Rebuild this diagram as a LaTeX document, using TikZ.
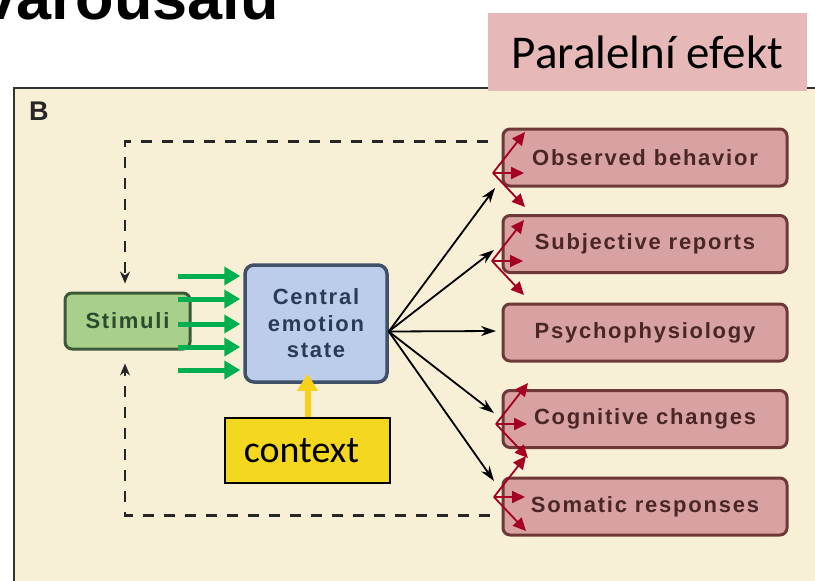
\documentclass[tikz,border=0pt]{standalone}
\usepackage{fontspec}
\setmainfont{Liberation Sans}
\newfontfamily\calibri{Carlito}
\usetikzlibrary{arrows.meta,calc}

\definecolor{panelcream}{HTML}{F8F0D6}
\definecolor{stimfill}{HTML}{A9D08A}
\definecolor{stimdraw}{HTML}{3C5A3A}
\definecolor{stimtext}{HTML}{2E4A2E}
\definecolor{centfill}{HTML}{BCCDEB}
\definecolor{centdraw}{HTML}{3F5068}
\definecolor{centtext}{HTML}{2B3A55}
\definecolor{outfill}{HTML}{D8A2A2}
\definecolor{outdraw}{HTML}{6E3838}
\definecolor{outtext}{HTML}{4A2626}
\definecolor{fanred}{HTML}{A50021}
\definecolor{stimgreen}{HTML}{00B050}
\definecolor{ctxyellow}{HTML}{F4D81F}
\definecolor{ctxarrow}{HTML}{F8D21A}
\definecolor{tagpink}{HTML}{E6B9B8}

\begin{document}
\begin{tikzpicture}[
    x=1pt, y=-1pt,
    boxfont/.style={font=\bfseries\fontsize{22}{26.5}\selectfont\addfontfeature{LetterSpace=8}},
    outbox/.style={rectangle, rounded corners=7pt, draw=outdraw, line width=3pt, fill=outfill, text=outtext, minimum width=284pt, minimum height=57pt, boxfont},
    feedback/.style={draw=black!85, line width=2.5pt, dash pattern=on 11pt off 10pt, -{Stealth[length=12pt,width=10pt]}},
    effect/.style={black, line width=1.8pt, -{Stealth[length=15pt,width=10pt]}},
    fan/.style={fanred, line width=1.8pt, -{Triangle[length=13pt,width=12pt]}},
    inflow/.style={stimgreen, line width=5pt, -{Triangle[length=16pt,width=18pt]}}
]

\useasboundingbox (0,0) rectangle (815,581);
\clip (0,0) rectangle (815,581);

% title cut at the top
\node[anchor=base west, inner sep=0pt, font=\bfseries\fontsize{63}{63}\selectfont] (title) at (-19,19) {varousalu};

% panel B
\draw[fill=panelcream, draw=black!80, line width=2.5pt] (14,88) rectangle (840,610);
\node[anchor=north west, inner sep=0pt, font=\bfseries\fontsize{27}{27}\selectfont, text=black!85] (panel) at (29,102) {B};

\node[rectangle, fill=tagpink, minimum width=319pt, minimum height=78pt, font=\calibri\fontsize{47}{47}\selectfont] (tag) at (647.5,52) {Paralelní efekt};

% boxes
\node[rectangle, rounded corners=7pt, draw=stimdraw, line width=3pt, fill=stimfill, text=stimtext, minimum width=125pt, minimum height=56pt, boxfont] (stim) at (127.5,321) {Stimuli};

\node[rectangle, rounded corners=9pt, draw=centdraw, line width=3.5pt, fill=centfill, text=centtext, minimum width=142pt, minimum height=117pt, align=center, boxfont] (cent) at (316,323.5) {Central\\emotion\\state};

\node[rectangle, draw=black, line width=1.5pt, fill=ctxyellow, minimum width=165pt, minimum height=65pt, font=\calibri\fontsize{38}{38}\selectfont] (ctx) at (307.5,450.5) {\hspace*{-12pt}context};

\node[outbox] (obs) at (645,157.5) {Observed behavior};
\node[outbox] (sub) at (645,244) {Subjective reports};
\node[outbox] (psy) at (645,332.5) {Psychophysiology};
\node[outbox] (cog) at (645,419) {Cognitive changes};
\node[outbox] (som) at (645,506.5) {Somatic responses};

% feedback loop
\draw[feedback] ([xshift=-14pt,yshift=16pt]obs.west) -| ([xshift=-2.5pt,yshift=8pt]stim.north);
\draw[feedback] ([xshift=-12pt,yshift=-9pt]som.west) -| ([xshift=-2.5pt,yshift=-13pt]stim.south);

% stimulus input
\foreach \y [count=\i] in {276,299,324,347,370} {
    \coordinate (in\i) at (178,\y);
    \draw[inflow] (in\i) -- ([xshift=-3pt]in\i -| cent.west);
}

\draw[ctxarrow, line width=6pt, -{Triangle[length=17pt,width=20pt]}, shorten >=-10pt] (ctx.north) -- (ctx.north |- cent.south);

% responses
\coordinate (hub) at ([yshift=-8pt]cent.east);
\coordinate (t1) at (495,188);
\coordinate (t2) at (494,250);
\coordinate (t3) at (496,331);
\coordinate (t4) at (494,413);
\coordinate (t5) at (494,481);
\foreach \i in {1,...,5}
    \draw[effect] (hub) -- (t\i);

% parallel fans
\foreach \n/\x/\y in {obs/493/173, sub/492/261, cog/496/424, som/494/497} {
    \coordinate (\n-o) at (\x,\y);
    \coordinate (\n-a) at ($(\n-o)+(32,-41)$);
    \coordinate (\n-b) at ($(\n-o)+(31,0)$);
    \coordinate (\n-c) at ($(\n-o)+(32,34)$);
    \draw[fan] (\n-o) -- (\n-a);
    \draw[fan] (\n-o) -- (\n-b);
    \draw[fan] (\n-o) -- (\n-c);
}

\end{tikzpicture}
\end{document}
